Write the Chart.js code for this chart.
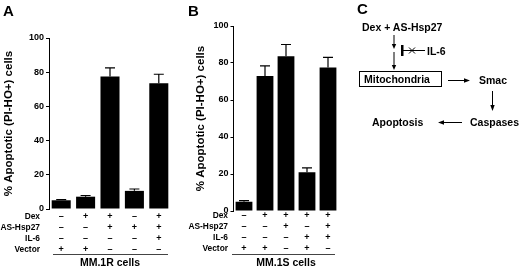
<!DOCTYPE html>
<html>
<head>
<meta charset="utf-8">
<script src="https://cdn.jsdelivr.net/npm/chart.js@4.4.1/dist/chart.umd.min.js"></script>
<style>
  html, body { margin: 0; padding: 0; background: #fff; }
  #wrap { position: relative; width: 520px; height: 268px; overflow: hidden;
          font-family: "Liberation Sans", Arial, sans-serif; }
  #boxA { position: absolute; left: 0; top: 0; width: 180px; height: 268px; }
  #boxB { position: absolute; left: 180px; top: 0; width: 165px; height: 268px; }
  .letter { position: absolute; font-weight: bold; font-size: 15px; line-height: 15px; color: #000; }
  svg { position: absolute; left: 0; top: 0; }
  svg text { font-family: "Liberation Sans", Arial, sans-serif; font-weight: bold; font-size: 10.5px; fill: #000; }
</style>
</head>
<body>
<div id="wrap">
  <div id="boxA"><canvas id="chartA" width="180" height="268"></canvas></div>
  <div id="boxB"><canvas id="chartB" width="165" height="268"></canvas></div>
  <div class="letter" style="left:3px;top:3px">A</div>
  <div class="letter" style="left:188px;top:3px">B</div>
  <div class="letter" style="left:357px;top:1px">C</div>

  <!-- panel C: pathway sketch -->
  <svg width="520" height="268" viewBox="0 0 520 268">
    <g stroke="#000" stroke-width="1" fill="none">
      <line x1="394" y1="35" x2="394" y2="45"/>
      <line x1="394" y1="52" x2="394" y2="66"/>
      <line x1="402" y1="50.5" x2="425" y2="50.5"/>
      <line x1="409" y1="47.5" x2="415" y2="53.5"/>
      <line x1="409" y1="53.5" x2="415" y2="47.5"/>
      <rect x="359.5" y="71.5" width="82" height="15"/>
      <line x1="448" y1="80.5" x2="465" y2="80.5"/>
      <line x1="492.5" y1="91" x2="492.5" y2="106"/>
      <line x1="462" y1="122.5" x2="443" y2="122.5"/>
    </g>
    <g fill="#000">
      <rect x="401" y="45" width="2.5" height="11"/>
      <polygon points="391.8,44 396.2,44 394,49"/>
      <polygon points="391.8,65 396.2,65 394,70"/>
      <polygon points="464,78.3 464,82.7 470,80.5"/>
      <polygon points="490.3,105 494.7,105 492.5,111"/>
      <polygon points="444,120.3 444,124.7 438,122.5"/>
    </g>
    <text x="362" y="31">Dex + AS-Hsp27</text>
    <text x="427" y="54.5">IL-6</text>
    <text x="364" y="82.5">Mitochondria</text>
    <text x="479" y="84">Smac</text>
    <text x="470" y="126">Caspases</text>
    <text x="372" y="126">Apoptosis</text>
  </svg>
</div>

<script>
  // conditions under each bar (– = absent, + = present)
  const rowNames = ['Dex', 'AS-Hsp27', 'IL-6', 'Vector'];

  const dexA    = ['–', '+', '+', '–', '+'];
  const hspA    = ['–', '–', '+', '+', '+'];
  const il6A    = ['–', '–', '–', '–', '+'];
  const vectorA = ['+', '+', '–', '–', '–'];
  const valuesA = [5.1, 7.2, 77.5, 10.6, 73.5];
  const errorsA = [0.4, 0.7, 5.0, 1.1, 5.3];

  const dexB    = ['–', '+', '+', '+', '+'];
  const hspB    = ['–', '–', '+', '–', '+'];
  const il6B    = ['–', '–', '–', '+', '+'];
  const vectorB = ['+', '+', '–', '+', '–'];
  const valuesB = [5.0, 73.0, 83.7, 21.0, 77.6];
  const errorsB = [0.6, 5.4, 6.3, 2.3, 5.4];

  const yTicks = [0, 20, 40, 60, 80, 100];

  const FONT = '"Liberation Sans", Arial, sans-serif';
  const ROW_H = 11;

  // error whiskers, row names and the bracket line under the table
  const annotate = {
    id: 'annotate',
    afterDatasetsDraw(chart, args, opts) {
      const ctx = chart.ctx;
      const xs = chart.scales.x, ys = chart.scales.y;
      const vals = chart.data.datasets[0].data;
      ctx.save();
      ctx.strokeStyle = '#000';
      ctx.lineWidth = 1.2;
      opts.errors.forEach((e, i) => {
        const px = xs.getPixelForValue(i);
        const y0 = ys.getPixelForValue(vals[i]);
        const y1 = ys.getPixelForValue(vals[i] + e);
        ctx.beginPath();
        ctx.moveTo(px, y0);
        ctx.lineTo(px, y1);
        ctx.moveTo(px - opts.cap, y1);
        ctx.lineTo(px + opts.cap, y1);
        ctx.stroke();
      });

      ctx.fillStyle = '#000';
      ctx.font = 'bold 8.4px ' + FONT;
      ctx.textAlign = 'right';
      ctx.textBaseline = 'middle';
      const top = xs.top + xs.options.ticks.padding;
      rowNames.forEach((name, i) => {
        ctx.fillText(name, chart.chartArea.left - opts.nameGap, top + ROW_H * (i + 0.5));
      });

      ctx.strokeStyle = '#444';
      ctx.lineWidth = 1;
      ctx.beginPath();
      ctx.moveTo(xs.left + opts.lineL, opts.lineY + 0.5);
      ctx.lineTo(xs.right - opts.lineR, opts.lineY + 0.5);
      ctx.stroke();
      ctx.restore();
    }
  };

  function makeChart(id, rows, values, errors, cellLabel, geo) {
    const labels = values.map((v, i) => rows.map(r => r[i]));
    return new Chart(document.getElementById(id), {
      type: 'bar',
      data: {
        labels: labels,
        datasets: [{
          data: values,
          backgroundColor: '#000',
          borderWidth: 0,
          barPercentage: geo.barPct,
          categoryPercentage: 1
        }]
      },
      options: {
        responsive: false,
        animation: false,
        layout: { padding: { top: geo.top, right: geo.right, left: 0, bottom: 0 } },
        plugins: {
          legend: { display: false },
          tooltip: { enabled: false },
          annotate: { errors: errors, cap: 5, nameGap: geo.nameGap, lineY: 254, lineL: geo.lineL, lineR: geo.lineR }
        },
        scales: {
          x: {
            offset: true,
            grid: { display: false, drawTicks: false },
            border: { display: false },
            ticks: {
              color: '#000',
              autoSkip: false,
              maxRotation: 0,
              padding: geo.tickPad,
              font: { family: FONT, size: 9, weight: 'bold', lineHeight: ROW_H + 'px' }
            },
            title: {
              display: true,
              text: cellLabel,
              color: '#000',
              font: { family: FONT, size: 10.5, weight: 'bold', lineHeight: 1 },
              padding: { top: 0, bottom: 0 }
            },
            afterFit(s) { s.height = 268 - geo.bottom; }
          },
          y: {
            min: 0,
            max: 100,
            afterBuildTicks(s) { s.ticks = yTicks.map(v => ({ value: v })); },
            ticks: { color: '#000', padding: 2, font: { family: FONT, size: 9, weight: 'bold' } },
            grid: { drawOnChartArea: false, drawTicks: true, tickLength: 3, color: '#000' },
            border: { display: true, color: '#000', width: 1 },
            title: {
              display: true,
              text: '% Apoptotic (PI-HO+) cells',
              color: '#000',
              font: { family: FONT, size: 11.5, weight: 'bold', lineHeight: 1.2 },
              padding: { top: geo.titlePad, bottom: 0 }
            },
            afterFit(s) { s.width = geo.left; }
          }
        }
      },
      plugins: [annotate]
    });
  }

  makeChart('chartA', [dexA, hspA, il6A, vectorA], valuesA, errorsA, 'MM.1R cells',
    { left: 49, right: 9, top: 38, bottom: 209, barPct: 0.78, tickPad: 2, nameGap: 9, titlePad: 2, lineL: 4, lineR: 3 });
  makeChart('chartB', [dexB, hspB, il6B, vectorB], valuesB, errorsB, 'MM.1S cells',
    { left: 53.5, right: 6.5, top: 26, bottom: 211, barPct: 0.8, tickPad: -1, nameGap: 5.5, titlePad: 14, lineL: -1.5, lineR: 3.5 });
</script>
</body>
</html>
